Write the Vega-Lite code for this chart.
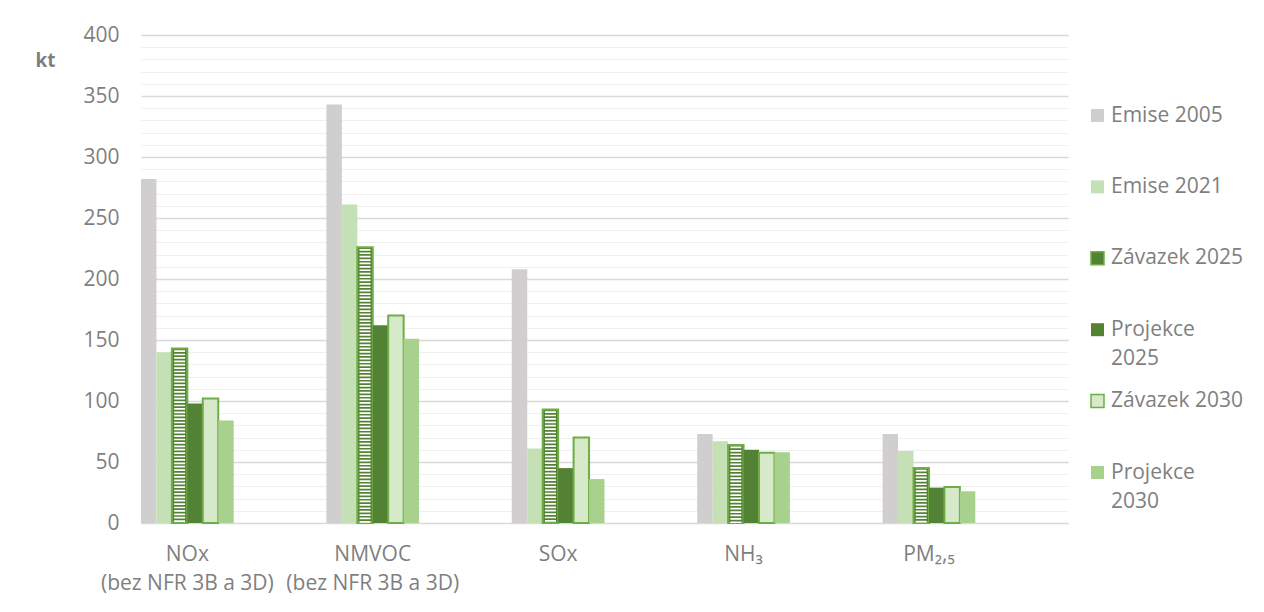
{
  "$schema": "https://vega.github.io/schema/vega-lite/v6.json",
  "width": 927,
  "height": 488,
  "autosize": {"type": "none"},
  "padding": {"left": 141, "top": 35, "right": 196, "bottom": 89},
  "background": "white",
  "config": {
    "font": "Open Sans",
    "view": {"stroke": null}
  },
  "data": {
    "values": [
      {"cat": "NOx\n(bez NFR 3B a 3D)", "series": "Emise 2005", "value": 282},
      {"cat": "NOx\n(bez NFR 3B a 3D)", "series": "Emise 2021", "value": 140},
      {"cat": "NOx\n(bez NFR 3B a 3D)", "series": "Závazek 2025", "value": 143},
      {"cat": "NOx\n(bez NFR 3B a 3D)", "series": "Projekce 2025", "value": 98},
      {"cat": "NOx\n(bez NFR 3B a 3D)", "series": "Závazek 2030", "value": 102},
      {"cat": "NOx\n(bez NFR 3B a 3D)", "series": "Projekce 2030", "value": 84},
      {"cat": "NMVOC\n(bez NFR 3B a 3D)", "series": "Emise 2005", "value": 343},
      {"cat": "NMVOC\n(bez NFR 3B a 3D)", "series": "Emise 2021", "value": 261},
      {"cat": "NMVOC\n(bez NFR 3B a 3D)", "series": "Závazek 2025", "value": 226},
      {"cat": "NMVOC\n(bez NFR 3B a 3D)", "series": "Projekce 2025", "value": 162},
      {"cat": "NMVOC\n(bez NFR 3B a 3D)", "series": "Závazek 2030", "value": 170},
      {"cat": "NMVOC\n(bez NFR 3B a 3D)", "series": "Projekce 2030", "value": 151},
      {"cat": "SOx", "series": "Emise 2005", "value": 208},
      {"cat": "SOx", "series": "Emise 2021", "value": 61},
      {"cat": "SOx", "series": "Závazek 2025", "value": 93},
      {"cat": "SOx", "series": "Projekce 2025", "value": 45},
      {"cat": "SOx", "series": "Závazek 2030", "value": 70},
      {"cat": "SOx", "series": "Projekce 2030", "value": 36},
      {"cat": "NH₃", "series": "Emise 2005", "value": 73},
      {"cat": "NH₃", "series": "Emise 2021", "value": 67},
      {"cat": "NH₃", "series": "Závazek 2025", "value": 64},
      {"cat": "NH₃", "series": "Projekce 2025", "value": 60},
      {"cat": "NH₃", "series": "Závazek 2030", "value": 57.5},
      {"cat": "NH₃", "series": "Projekce 2030", "value": 58},
      {"cat": "PM₂,₅", "series": "Emise 2005", "value": 73},
      {"cat": "PM₂,₅", "series": "Emise 2021", "value": 59},
      {"cat": "PM₂,₅", "series": "Závazek 2025", "value": 45},
      {"cat": "PM₂,₅", "series": "Projekce 2025", "value": 29},
      {"cat": "PM₂,₅", "series": "Závazek 2030", "value": 29.5},
      {"cat": "PM₂,₅", "series": "Projekce 2030", "value": 26}
    ]
  },
  "encoding": {
    "x": {
      "field": "cat",
      "type": "nominal",
      "scale": {
        "domain": ["NOx\n(bez NFR 3B a 3D)", "NMVOC\n(bez NFR 3B a 3D)", "SOx", "NH₃", "PM₂,₅"],
        "paddingInner": 0.5,
        "paddingOuter": 0.25,
        "align": 0
      },
      "axis": {
        "title": null,
        "labelExpr": "split(datum.label, '\\n')",
        "domain": false,
        "ticks": false,
        "labelAngle": 0,
        "labelFontSize": 21,
        "labelColor": "#7f7f7f",
        "labelPadding": 20,
        "labelLineHeight": 29,
        "labelLimit": 400,
        "labelBaseline": "top"
      }
    },
    "xOffset": {
      "field": "series",
      "type": "nominal",
      "scale": {
        "domain": ["Emise 2005", "Emise 2021", "Závazek 2025", "Projekce 2025", "Závazek 2030", "Projekce 2030"],
        "paddingInner": 0,
        "paddingOuter": 0
      }
    },
    "y": {
      "field": "value",
      "type": "quantitative",
      "scale": {"domain": [0, 400], "nice": false},
      "axis": {
        "values": [0, 10, 20, 30, 40, 50, 60, 70, 80, 90, 100, 110, 120, 130, 140, 150, 160, 170, 180, 190, 200, 210, 220, 230, 240, 250, 260, 270, 280, 290, 300, 310, 320, 330, 340, 350, 360, 370, 380, 390, 400],
        "labelExpr": "datum.value % 50 === 0 ? datum.label : ''",
        "gridColor": {"condition": {"test": "datum.value % 50 === 0", "value": "#d9d9d9"}, "value": "#f0f0f0"},
        "gridWidth": {"condition": {"test": "datum.value % 50 === 0", "value": 1.6}, "value": 1.2},
        "domain": false,
        "ticks": false,
        "labelPadding": 22,
        "labelFontSize": 21,
        "labelColor": "#7f7f7f",
        "labelOverlap": false,
        "title": "kt",
        "titleAngle": 0,
        "titleX": -96,
        "titleY": 25,
        "titleAlign": "center",
        "titleBaseline": "middle",
        "titleFontSize": 19,
        "titleFontWeight": "bold",
        "titleColor": "#7f7f7f"
      }
    }
  },
  "layer": [
    {
      "mark": {"type": "bar", "strokeWidth": 2},
      "encoding": {
        "fill": {
          "field": "series",
          "type": "nominal",
          "scale": {
            "domain": ["Emise 2005", "Emise 2021", "Závazek 2025", "Projekce 2025", "Závazek 2030", "Projekce 2030"],
            "range": ["#d0cece", "#c5e0b4", "#548235", "#548235", "#d6e9c9", "#a9d18e"]
          },
          "legend": {
            "orient": "none",
            "legendX": 946,
            "legendY": 70,
            "title": null,
            "padding": 0,
            "symbolType": "square",
            "symbolSize": 169,
            "labelFontSize": 21,
            "labelColor": "#7f7f7f",
            "labelOffset": 3,
            "labelLimit": 300,
            "labelBaseline": "middle",
            "rowPadding": 20.4,
            "labelExpr": "indexof(datum.label, 'Projekce') === 0 ? split(datum.label, ' ') : [datum.label, '']",
            "encoding": {
              "labels": {"lineHeight": {"value": 29}},
              "symbols": {
                "fill": {
                  "condition": [
                    {"test": "datum.value === 'Emise 2005'", "value": "#d0cece"},
                    {"test": "datum.value === 'Emise 2021'", "value": "#c5e0b4"},
                    {"test": "datum.value === 'Projekce 2025'", "value": "#548235"},
                    {"test": "datum.value === 'Závazek 2030'", "value": "#d6e9c9"},
                    {"test": "datum.value === 'Projekce 2030'", "value": "#a9d18e"}
                  ],
                  "value": {
                    "gradient": "linear", "x1": 0, "y1": 0, "x2": 0, "y2": 1,
                    "stops": [
                      {"offset": 0, "color": "#548235"}, {"offset": 0.2, "color": "#548235"},
                      {"offset": 0.2, "color": "#ffffff"}, {"offset": 0.33, "color": "#ffffff"},
                      {"offset": 0.33, "color": "#548235"}, {"offset": 0.47, "color": "#548235"},
                      {"offset": 0.47, "color": "#ffffff"}, {"offset": 0.6, "color": "#ffffff"},
                      {"offset": 0.6, "color": "#548235"}, {"offset": 0.73, "color": "#548235"},
                      {"offset": 0.73, "color": "#ffffff"}, {"offset": 0.86, "color": "#ffffff"},
                      {"offset": 0.86, "color": "#548235"}, {"offset": 1, "color": "#548235"}
                    ]
                  }
                },
                "stroke": {
                  "condition": {"test": "indexof(datum.value, 'Závazek') === 0", "value": "#70ad47"},
                  "value": "transparent"
                },
                "strokeWidth": {"value": 1.5}
              }
            }
          }
        },
        "stroke": {
          "condition": {"test": "indexof(datum.series, 'Závazek') === 0", "value": "#70ad47"},
          "value": "transparent"
        }
      }
    },
    {
      "transform": [{"filter": "datum.series === 'Závazek 2025'"}],
      "mark": {"type": "rule", "stroke": "#ffffff", "strokeWidth": 11, "strokeDash": [1.7, 1.7], "strokeDashOffset": 1.7, "strokeCap": "butt"},
      "encoding": {"y2": {"datum": 0}}
    }
  ]
}
